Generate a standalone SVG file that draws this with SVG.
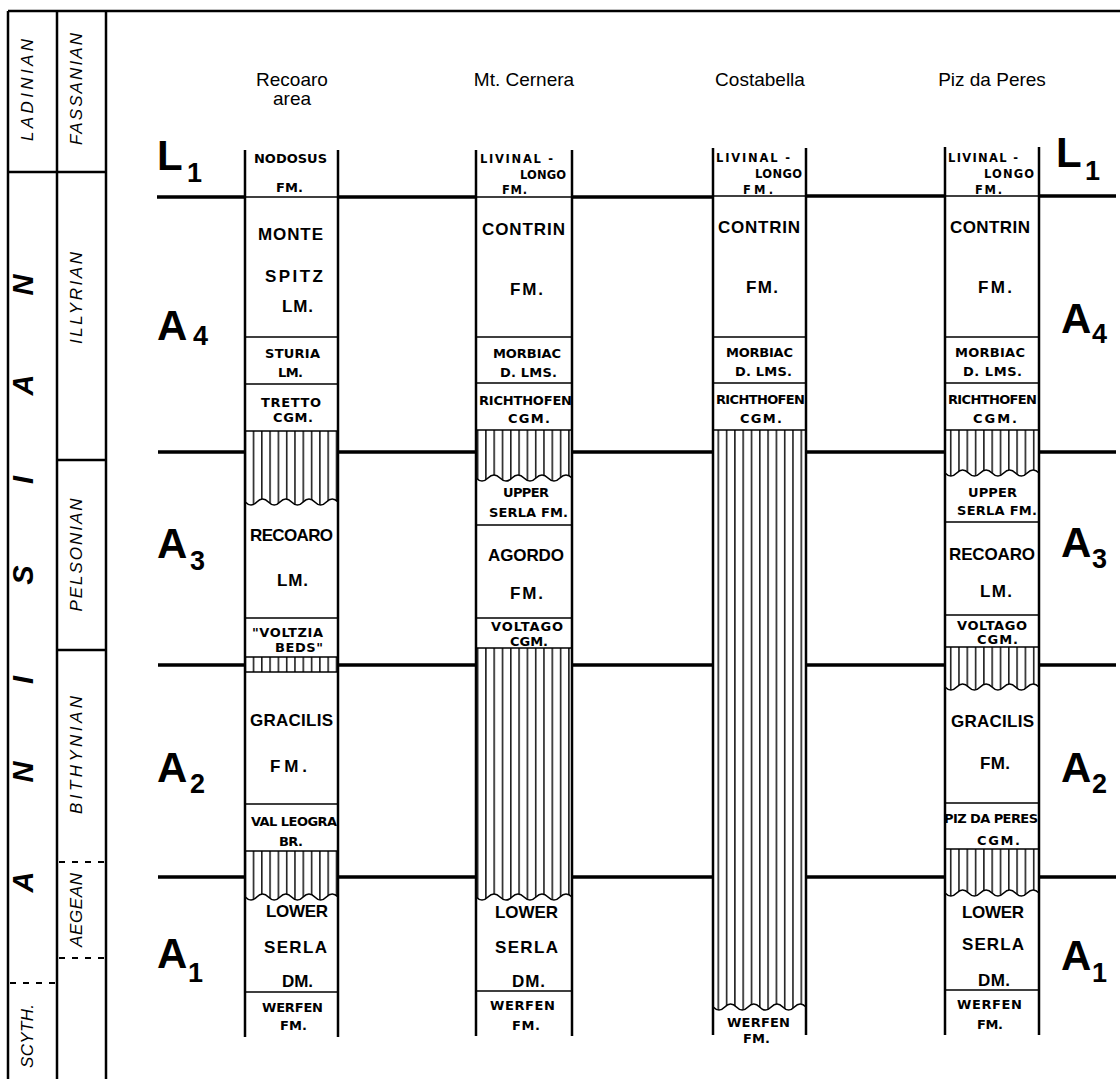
<svg xmlns="http://www.w3.org/2000/svg" width="1120" height="1079" viewBox="0 0 1120 1079">
<style>
.ln{stroke:#000;fill:none;stroke-linecap:butt}
.frame{stroke-width:2.5}
.col{stroke-width:2.5}
.dv{stroke-width:1.6}
.bnd{stroke-width:3.5}
.dash{stroke-width:2;stroke-dasharray:6 7}
.wave{stroke:#000;stroke-width:1.6;fill:none}
.hatch{fill:url(#hatch);stroke:none}
text{font-family:"Liberation Sans",Arial,sans-serif;fill:#000}
.sm{font-family:"DejaVu Sans","Liberation Sans",sans-serif;font-size:13px;font-weight:bold}
.xs{font-size:11.5px}
.lg{font-size:17px;font-weight:bold}
.hdr{font-size:19px;text-anchor:middle}
.zn{font-size:42px;font-weight:bold}
.sb{font-size:27px;font-weight:bold}
.st{font-size:17px;font-style:italic;text-anchor:middle}
.big{font-size:29px;font-weight:bold;font-style:italic;text-anchor:middle}
</style>
<defs>
<pattern id="hatch" patternUnits="userSpaceOnUse" width="8.3" height="20">
<line x1="4.5" y1="0" x2="4.5" y2="20" stroke="#000" stroke-width="1.4"/>
</pattern>
</defs>
<rect width="1120" height="1079" fill="#fff"/>

<g id="time-scale">
<line class="ln frame" x1="8" y1="11" x2="1120" y2="11"/>
<line class="ln frame" x1="8" y1="11" x2="8" y2="1079"/>
<line class="ln frame" x1="57" y1="11" x2="57" y2="1079"/>
<line class="ln frame" x1="106" y1="11" x2="106" y2="1079"/>
<line class="ln frame" x1="8" y1="172" x2="106" y2="172"/>
<line class="ln frame" x1="57" y1="460" x2="106" y2="460"/>
<line class="ln frame" x1="57" y1="650" x2="106" y2="650"/>
<line class="ln dash" x1="59" y1="862" x2="106" y2="862"/>
<line class="ln dash" x1="59" y1="958" x2="106" y2="958"/>
<line class="ln dash" x1="10" y1="983" x2="57" y2="983"/>
<text class="st" transform="translate(27,90) rotate(-90)" y="6" textLength="102">LADINIAN</text>
<text class="st" transform="translate(76,89) rotate(-90)" y="6" textLength="112">FASSANIAN</text>
<text class="st" transform="translate(76,298) rotate(-90)" y="6" textLength="92">ILLYRIAN</text>
<text class="st" transform="translate(76,555) rotate(-90)" y="6" textLength="113">PELSONIAN</text>
<text class="st" transform="translate(76,755) rotate(-90)" y="6" textLength="118">BITHYNIAN</text>
<text class="st" transform="translate(76,910) rotate(-90)" y="6" textLength="74">AEGEAN</text>
<text class="st" transform="translate(27,1036) rotate(-90)" y="6" textLength="64">SCYTH.</text>
<text class="big" transform="translate(23,285) rotate(-90)" y="10">N</text>
<text class="big" transform="translate(23,385) rotate(-90)" y="10">A</text>
<text class="big" transform="translate(23,480) rotate(-90)" y="10">I</text>
<text class="big" transform="translate(23,575) rotate(-90)" y="10">S</text>
<text class="big" transform="translate(23,680) rotate(-90)" y="10">I</text>
<text class="big" transform="translate(23,772) rotate(-90)" y="10">N</text>
<text class="big" transform="translate(23,882) rotate(-90)" y="10">A</text>
</g>

<g id="headers">
<text class="hdr" x="292" y="86">Recoaro</text>
<text class="hdr" x="292" y="105">area</text>
<text class="hdr" x="524" y="86">Mt. Cernera</text>
<text class="hdr" x="760" y="86">Costabella</text>
<text class="hdr" x="992" y="86">Piz da Peres</text>
</g>

<g id="connectors">
<path class="ln bnd" d="M157 197H245M338 197H476M572 197H713M806 196H945M1039 196H1116"/>
<path class="ln bnd" d="M158 452H245M338 452H476M572 452H713M806 452H945M1039 452H1116"/>
<path class="ln bnd" d="M158 665H245M338 665H476M572 665H713M806 665H945M1039 665H1116"/>
<path class="ln bnd" d="M158 877H245M338 877H476M572 877H713M806 877H945M1039 877H1116"/>
</g>

<g id="zone-labels">
<text class="zn" x="157" y="170">L</text><text class="sb" x="187" y="182">1</text>
<text class="zn" x="157" y="340">A</text><text class="sb" x="193" y="345">4</text>
<text class="zn" x="157" y="558">A</text><text class="sb" x="190" y="570">3</text>
<text class="zn" x="157" y="782">A</text><text class="sb" x="190" y="793">2</text>
<text class="zn" x="157" y="968">A</text><text class="sb" x="188" y="982">1</text>
<text class="zn" x="1056" y="167">L</text><text class="sb" x="1085" y="180">1</text>
<text class="zn" x="1061" y="333">A</text><text class="sb" x="1092" y="343">4</text>
<text class="zn" x="1061" y="557">A</text><text class="sb" x="1092" y="568">3</text>
<text class="zn" x="1061" y="782">A</text><text class="sb" x="1092" y="793">2</text>
<text class="zn" x="1061" y="970">A</text><text class="sb" x="1092" y="982">1</text>
</g>

<g id="col-recoaro">
<path class="hatch" d="M245 431H338V502q-5.8 -6 -11.6 0t-11.6 0t-11.6 0t-11.6 0t-11.6 0t-11.6 0t-11.6 0t-11.6 0Z"/>
<path class="wave" d="M338 502q-5.8 -6 -11.6 0t-11.6 0t-11.6 0t-11.6 0t-11.6 0t-11.6 0t-11.6 0t-11.6 0"/>
<rect class="hatch" x="245" y="657" width="93" height="15"/>
<path class="hatch" d="M245 851H338V897q-5.8 -6 -11.6 0t-11.6 0t-11.6 0t-11.6 0t-11.6 0t-11.6 0t-11.6 0t-11.6 0Z"/>
<path class="wave" d="M338 897q-5.8 -6 -11.6 0t-11.6 0t-11.6 0t-11.6 0t-11.6 0t-11.6 0t-11.6 0t-11.6 0"/>
<path class="ln dv" d="M245 197H338M245 337H338M245 384H338M245 431H338M245 618H338M245 657H338M245 672H338M245 804H338M245 851H338M245 992H338"/>
<path class="ln col" d="M245 150V1037M338 150V1037"/>
<text class="sm" x="254" y="163" textLength="73">NODOSUS</text>
<text class="sm" x="276" y="192" textLength="27">FM.</text>
<text class="lg" x="258" y="240" textLength="65">MONTE</text>
<text class="lg" x="265" y="282" textLength="58">SPITZ</text>
<text class="lg" x="282" y="312" textLength="31">LM.</text>
<text class="sm" x="265" y="358" textLength="55">STURIA</text>
<text class="sm" x="278" y="377" textLength="25">LM.</text>
<text class="sm" x="261" y="407" textLength="60">TRETTO</text>
<text class="sm" x="273" y="422" textLength="40">CGM.</text>
<text class="lg" x="250" y="541" textLength="83">RECOARO</text>
<text class="lg" x="277" y="586" textLength="31">LM.</text>
<text class="sm" x="252" y="637" textLength="71">"VOLTZIA</text>
<text class="sm" x="275" y="652" textLength="48">BEDS"</text>
<text class="lg" x="250" y="726" textLength="83">GRACILIS</text>
<text class="lg" x="270" y="772" textLength="37">FM.</text>
<text class="sm" x="251" y="826" textLength="86">VAL LEOGRA</text>
<text class="sm" x="279" y="846" textLength="24">BR.</text>
<text class="lg" x="266" y="917" textLength="62">LOWER</text>
<text class="lg" x="264" y="953" textLength="63">SERLA</text>
<text class="lg" x="282" y="987" textLength="31">DM.</text>
<text class="sm" x="262" y="1012" textLength="61">WERFEN</text>
<text class="sm" x="280" y="1030" textLength="27">FM.</text>
</g>

<g id="col-cernera">
<path class="hatch" d="M476 430H572V478q-6 -6 -12 0t-12 0t-12 0t-12 0t-12 0t-12 0t-12 0t-12 0Z"/>
<path class="wave" d="M572 478q-6 -6 -12 0t-12 0t-12 0t-12 0t-12 0t-12 0t-12 0t-12 0"/>
<path class="hatch" d="M476 648H572V897q-6 -6 -12 0t-12 0t-12 0t-12 0t-12 0t-12 0t-12 0t-12 0Z"/>
<path class="wave" d="M572 897q-6 -6 -12 0t-12 0t-12 0t-12 0t-12 0t-12 0t-12 0t-12 0"/>
<path class="ln dv" d="M476 197H572M476 337H572M476 383H572M476 430H572M476 525H572M476 618H572M476 648H572M476 991H572"/>
<path class="ln col" d="M476 150V1036M572 150V1036"/>
<text class="sm xs" x="480" y="163" textLength="73">LIVINAL -</text>
<text class="sm xs" x="520" y="179" textLength="46">LONGO</text>
<text class="sm xs" x="502" y="194" textLength="25">FM.</text>
<text class="lg" x="482" y="235" textLength="83">CONTRIN</text>
<text class="lg" x="510" y="295" textLength="33">FM.</text>
<text class="sm" x="493" y="358" textLength="68">MORBIAC</text>
<text class="sm" x="500" y="377" textLength="57">D. LMS.</text>
<text class="sm" x="479" y="405" textLength="93">RICHTHOFEN</text>
<text class="sm" x="508" y="423" textLength="42">CGM.</text>
<text class="sm" x="503" y="497" textLength="46">UPPER</text>
<text class="sm" x="489" y="517" textLength="79">SERLA FM.</text>
<text class="lg" x="488" y="561" textLength="76">AGORDO</text>
<text class="lg" x="510" y="599" textLength="33">FM.</text>
<text class="sm" x="491" y="631" textLength="72">VOLTAGO</text>
<text class="sm" x="510" y="646" textLength="38">CGM.</text>
<text class="lg" x="495" y="918" textLength="63">LOWER</text>
<text class="lg" x="495" y="953" textLength="63">SERLA</text>
<text class="lg" x="512" y="987" textLength="33">DM.</text>
<text class="sm" x="490" y="1010" textLength="65">WERFEN</text>
<text class="sm" x="512" y="1030" textLength="28">FM.</text>
</g>

<g id="col-costabella">
<path class="hatch" d="M713 430H806V1007q-5.8 -6 -11.6 0t-11.6 0t-11.6 0t-11.6 0t-11.6 0t-11.6 0t-11.6 0t-11.6 0Z"/>
<path class="wave" d="M806 1007q-5.8 -6 -11.6 0t-11.6 0t-11.6 0t-11.6 0t-11.6 0t-11.6 0t-11.6 0t-11.6 0"/>
<path class="ln dv" d="M713 196H806M713 337H806M713 383H806M713 430H806"/>
<path class="ln col" d="M713 148V1035M806 148V1035"/>
<text class="sm xs" x="716" y="162" textLength="74">LIVINAL -</text>
<text class="sm xs" x="755" y="178" textLength="47">LONGO</text>
<text class="sm xs" x="743" y="194" textLength="30">FM.</text>
<text class="lg" x="718" y="233" textLength="82">CONTRIN</text>
<text class="lg" x="746" y="293" textLength="32">FM.</text>
<text class="sm" x="726" y="357" textLength="67">MORBIAC</text>
<text class="sm" x="735" y="376" textLength="57">D. LMS.</text>
<text class="sm" x="716" y="404" textLength="89">RICHTHOFEN</text>
<text class="sm" x="740" y="423" textLength="42">CGM.</text>
<text class="sm" x="727" y="1027" textLength="63">WERFEN</text>
<text class="sm" x="743" y="1043" textLength="27">FM.</text>
</g>

<g id="col-pizdaperes">
<path class="hatch" d="M945 430H1039V473q-5.9 -6 -11.75 0t-11.75 0t-11.75 0t-11.75 0t-11.75 0t-11.75 0t-11.75 0t-11.75 0Z"/>
<path class="wave" d="M1039 473q-5.9 -6 -11.75 0t-11.75 0t-11.75 0t-11.75 0t-11.75 0t-11.75 0t-11.75 0t-11.75 0"/>
<path class="hatch" d="M945 647H1039V687q-5.9 -6 -11.75 0t-11.75 0t-11.75 0t-11.75 0t-11.75 0t-11.75 0t-11.75 0t-11.75 0Z"/>
<path class="wave" d="M1039 687q-5.9 -6 -11.75 0t-11.75 0t-11.75 0t-11.75 0t-11.75 0t-11.75 0t-11.75 0t-11.75 0"/>
<path class="hatch" d="M945 849H1039V893q-5.9 -6 -11.75 0t-11.75 0t-11.75 0t-11.75 0t-11.75 0t-11.75 0t-11.75 0t-11.75 0Z"/>
<path class="wave" d="M1039 893q-5.9 -6 -11.75 0t-11.75 0t-11.75 0t-11.75 0t-11.75 0t-11.75 0t-11.75 0t-11.75 0"/>
<path class="ln dv" d="M945 196H1039M945 337H1039M945 383H1039M945 430H1039M945 522H1039M945 615H1039M945 647H1039M945 803H1039M945 849H1039M945 990H1039"/>
<path class="ln col" d="M945 147V1035M1039 147V1035"/>
<text class="sm xs" x="948" y="162" textLength="70">LIVINAL -</text>
<text class="sm xs" x="984" y="178" textLength="50">LONGO</text>
<text class="sm xs" x="975" y="194" textLength="27">FM.</text>
<text class="lg" x="950" y="233" textLength="80">CONTRIN</text>
<text class="lg" x="978" y="293" textLength="34">FM.</text>
<text class="sm" x="955" y="357" textLength="70">MORBIAC</text>
<text class="sm" x="963" y="376" textLength="59">D. LMS.</text>
<text class="sm" x="948" y="404" textLength="89">RICHTHOFEN</text>
<text class="sm" x="973" y="423" textLength="44">CGM.</text>
<text class="sm" x="968" y="497" textLength="49">UPPER</text>
<text class="sm" x="957" y="515" textLength="80">SERLA FM.</text>
<text class="lg" x="949" y="560" textLength="86">RECOARO</text>
<text class="lg" x="980" y="597" textLength="32">LM.</text>
<text class="sm" x="957" y="630" textLength="70">VOLTAGO</text>
<text class="sm" x="977" y="644" textLength="41">CGM.</text>
<text class="lg" x="951" y="727" textLength="83">GRACILIS</text>
<text class="lg" x="980" y="769" textLength="30">FM.</text>
<text class="sm" x="944" y="823" textLength="94">PIZ DA PERES</text>
<text class="sm" x="977" y="845" textLength="43">CGM.</text>
<text class="lg" x="962" y="918" textLength="62">LOWER</text>
<text class="lg" x="962" y="950" textLength="62">SERLA</text>
<text class="lg" x="978" y="986" textLength="32">DM.</text>
<text class="sm" x="957" y="1009" textLength="65">WERFEN</text>
<text class="sm" x="977" y="1029" textLength="26">FM.</text>
</g>
</svg>
